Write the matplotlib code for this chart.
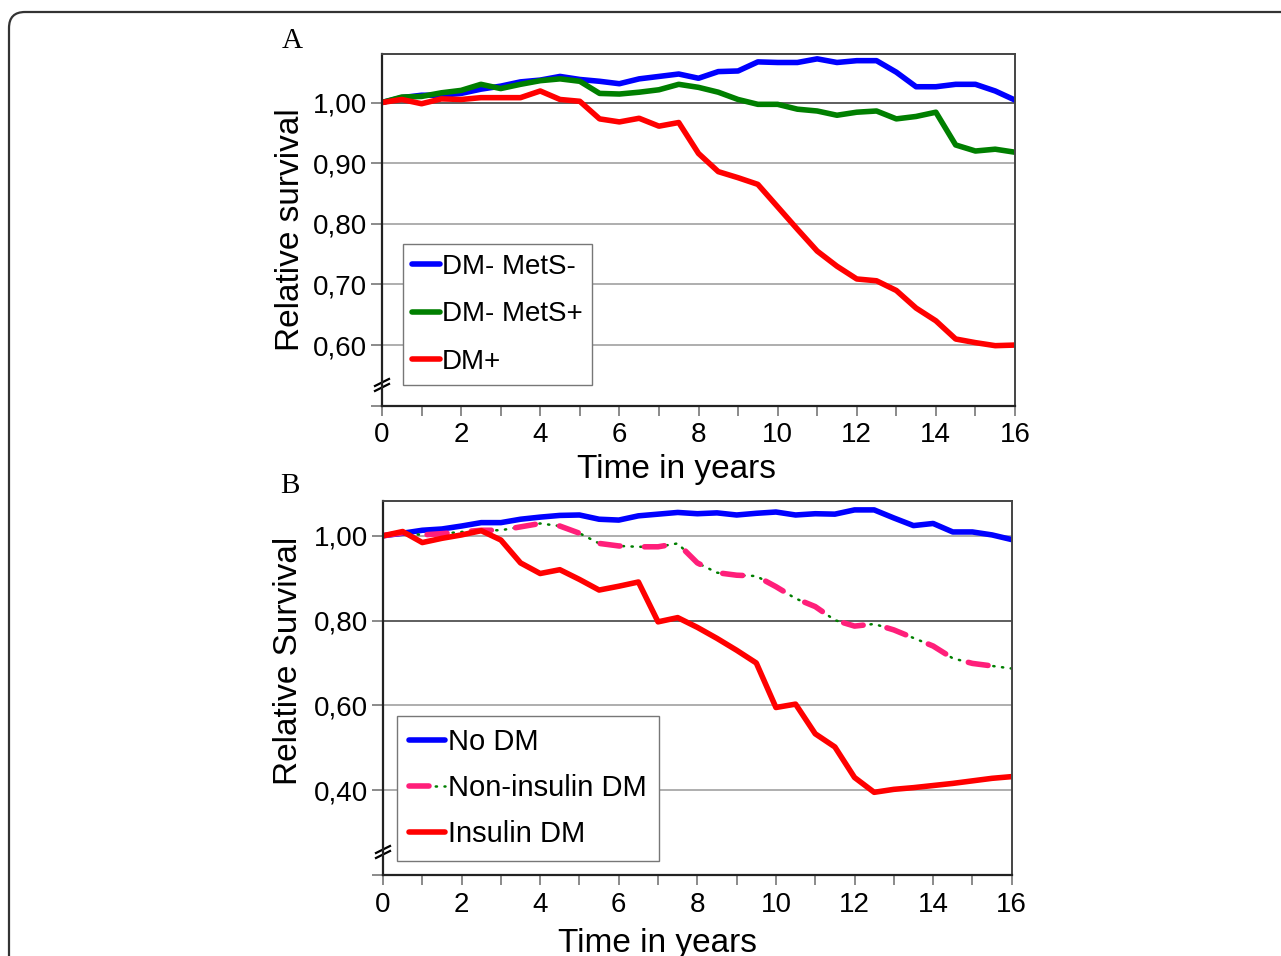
import matplotlib.pyplot as plt
import numpy as np
from matplotlib.patches import FancyBboxPatch
from matplotlib.transforms import IdentityTransform

plt.rcParams['font.family'] = ['Liberation Sans', 'DejaVu Sans']

# years, every half year
years = np.arange(0, 16.5, 0.5)

# Panel A
dm_mets_neg = [1.000, 1.008, 1.012, 1.012, 1.015, 1.022, 1.027, 1.034, 1.037, 1.043, 1.038,
               1.035, 1.031, 1.039, 1.043, 1.047, 1.040, 1.051, 1.052, 1.067, 1.066, 1.066,
               1.072, 1.066, 1.069, 1.069, 1.050, 1.026, 1.026, 1.030, 1.030, 1.019, 1.004]
dm_mets_pos = [1.000, 1.009, 1.010, 1.016, 1.020, 1.030, 1.023, 1.030, 1.036, 1.039, 1.035,
               1.015, 1.014, 1.017, 1.021, 1.030, 1.025, 1.017, 1.005, 0.997, 0.997, 0.989,
               0.986, 0.979, 0.984, 0.986, 0.973, 0.977, 0.984, 0.930, 0.920, 0.923, 0.918]
dm_pos = [1.000, 1.005, 0.998, 1.006, 1.005, 1.008, 1.008, 1.008, 1.019, 1.005, 1.002,
          0.973, 0.968, 0.974, 0.961, 0.967, 0.916, 0.886, 0.876, 0.865, 0.828, 0.791,
          0.755, 0.730, 0.709, 0.706, 0.690, 0.661, 0.640, 0.610, 0.604, 0.599, 0.600]

# Panel B
no_dm = [1.000, 1.006, 1.013, 1.016, 1.023, 1.031, 1.031, 1.039, 1.044, 1.048, 1.049,
         1.039, 1.037, 1.047, 1.051, 1.055, 1.052, 1.054, 1.049, 1.053, 1.056, 1.049,
         1.052, 1.051, 1.061, 1.061, 1.042, 1.024, 1.029, 1.009, 1.009, 1.002, 0.991]
non_insulin_dm = [1.000, 1.007, 1.002, 1.005, 1.009, 1.013, 1.013, 1.021, 1.029, 1.023, 1.006,
                  0.982, 0.976, 0.974, 0.974, 0.982, 0.936, 0.913, 0.907, 0.905, 0.880, 0.852,
                  0.833, 0.801, 0.787, 0.792, 0.778, 0.759, 0.740, 0.711, 0.699, 0.693, 0.687]
insulin_dm = [1.000, 1.010, 0.984, 0.994, 1.002, 1.012, 0.990, 0.936, 0.911, 0.920, 0.897,
              0.872, 0.881, 0.891, 0.797, 0.807, 0.784, 0.758, 0.730, 0.700, 0.595, 0.603,
              0.533, 0.502, 0.430, 0.395, 0.402, 0.406, 0.411, 0.416, 0.422, 0.428, 0.432]

ticks_a = [0.5, 0.6, 0.7, 0.8, 0.9, 1.0]
ticks_b = [0.2, 0.4, 0.6, 0.8, 1.0]

W, H = 1281, 956
fig = plt.figure(figsize=(W / 100, H / 100), dpi=100)

# rounded frame around the figure
frame = FancyBboxPatch((9, -60), 1400, H - 12 + 60, boxstyle="round,pad=0,rounding_size=16",
                       transform=IdentityTransform(), fill=False, edgecolor='#333333', linewidth=1.6)
fig.patches.append(frame)

axA = fig.add_axes([382 / W, 1 - 405.7 / H, 633 / W, (405.7 - 54) / H])
axB = fig.add_axes([383 / W, 1 - 875 / H, 628.7 / W, (875 - 501) / H])

lw = 4.0
kw = dict(linewidth=lw, solid_joinstyle='round', solid_capstyle='round')

lA1, = axA.plot(years, dm_mets_neg, color='#0000ff', **kw)
lA2, = axA.plot(years, dm_mets_pos, color='#007f00', **kw)
lA3, = axA.plot(years, dm_pos, color='#ff0000', **kw)

lB1, = axB.plot(years, no_dm, color='#0000ff', **kw)
lB2g, = axB.plot(years, non_insulin_dm, color='#007f00', linewidth=1.8,
                 linestyle=(0, (0.5, 3.0)), dash_capstyle='round')
lB2, = axB.plot(years, non_insulin_dm, color='#ff1f7a', linewidth=lw,
                linestyle=(0, (3.6, 4.4)), dash_capstyle='round', dash_joinstyle='round')
lB3, = axB.plot(years, insulin_dm, color='#ff0000', **kw)


def style(ax, yticks, ylim, dark):
    ax.set_xlim(0, 16)
    ax.set_ylim(*ylim)
    ax.set_xticks(range(0, 17, 2))
    ax.set_xticks(range(0, 17), minor=True)
    ax.set_yticks(yticks)
    ax.set_yticklabels([''] + [f'{v:.2f}'.replace('.', ',') for v in yticks[1:]])
    for v in yticks[1:]:
        ax.axhline(v, color='#333333' if abs(v - dark) < 1e-6 else '#999999',
                   linewidth=1.1, zorder=0.5)
    ax.tick_params(axis='x', which='both', direction='out', length=7, width=1.2,
                   color='#777777', labelsize=20, pad=5)
    ax.tick_params(axis='y', direction='out', length=8, width=1.2,
                   color='#777777', labelsize=20, pad=3)
    for s in ['top', 'right']:
        ax.spines[s].set_color('#444444')
        ax.spines[s].set_linewidth(1.4)
    for s in ['left', 'bottom']:
        ax.spines[s].set_color('#222222')
        ax.spines[s].set_linewidth(1.6)


style(axA, ticks_a, (0.5, 1.08), 1.0)
style(axB, ticks_b, (0.2, 1.082), 0.8)


def axis_break(ax, yb, w_px, h_px):
    dx = 7 / w_px
    dy = 3.5 / h_px
    gap = 5 / h_px
    for off in (-gap / 2, gap / 2):
        ax.plot([-dx, dx], [yb + off - dy, yb + off + dy], color='black', linewidth=1.6,
                transform=ax.transAxes, clip_on=False)


axis_break(axA, 0.059, 633, 351.7)
axis_break(axB, 0.0615, 628.7, 374)

# axis labels
axA.text(0.465, -0.2056, 'Time in years', transform=axA.transAxes, ha='center',
         va='baseline', fontsize=24)
axB.text(0.437, -0.206, 'Time in years', transform=axB.transAxes, ha='center',
         va='baseline', fontsize=24)
axA.text(-0.145, 0.5, 'Relative survival', transform=axA.transAxes, rotation=90,
         ha='center', va='center', fontsize=24)
axB.text(-0.151, 0.572, 'Relative Survival', transform=axB.transAxes, rotation=90,
         ha='center', va='center', fontsize=24)

fig.text(292 / W, 1 - 41 / H, 'A', family='Liberation Serif', fontsize=21,
         ha='center', va='center')
fig.text(290 / W, 1 - 486 / H, 'B', family='Liberation Serif', fontsize=21,
         ha='center', va='center')

legA = axA.legend([lA1, lA2, lA3], ['DM- MetS-', 'DM- MetS+', 'DM+'], loc='upper left',
                  bbox_to_anchor=(0.0327, 0.4598), borderaxespad=0, fontsize=20,
                  handlelength=1.0, handletextpad=0.05, labelspacing=0.78,
                  borderpad=0.35, fancybox=False, framealpha=1, edgecolor='#777777')
legA.get_frame().set_linewidth(1.0)

legB = axB.legend([lB1, (lB2g, lB2), lB3], ['No DM', 'Non-insulin DM', 'Insulin DM'],
                  loc='upper left', bbox_to_anchor=(0.0218, 0.425), borderaxespad=0,
                  fontsize=21, handlelength=1.25, handletextpad=0.1, labelspacing=0.62,
                  borderpad=0.42, fancybox=False, framealpha=1, edgecolor='#777777')
legB.get_frame().set_linewidth(1.0)

fig.savefig('out.png', dpi=100)
